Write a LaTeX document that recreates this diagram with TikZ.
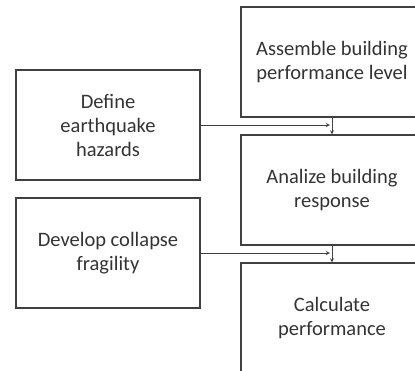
\documentclass[tikz,border=0pt]{standalone}
\usepackage{fontspec}
\setmainfont{Carlito}
\usetikzlibrary{arrows,positioning}
\tikzset{stepbox/.style={rectangle,draw=black!75,line width=1.1pt,align=center,
    text=black!80,font=\fontsize{20.5}{24}\selectfont,inner sep=0pt},
  rightbox/.style={stepbox,minimum width=182pt,minimum height=110pt},
  leftbox/.style={stepbox,minimum width=184pt,minimum height=110pt},
  link/.style={->,>=stealth,draw=black!75,line width=0.9pt}}

\begin{document}
\begin{tikzpicture}[x=1pt,y=-1pt]
\useasboundingbox (0,0) rectangle (415,370);
\clip (0,0) rectangle (415,370);
% \draw[help lines] (0,0) grid (415,370);
\node (assemble) [rightbox] at (332,62) {Assemble building\\performance level};
\node (analyze) [rightbox] at (332,190) {Analize building\\response};
\node (calculate) [rightbox] at (332,318) {Calculate\\performance};
\node (hazards) [leftbox] at (108,125) {Define\\earthquake\\hazards};
\node (fragility) [leftbox] at (108,253) {Develop collapse\\fragility};
%
\coordinate (j1) at (330,125);
\coordinate (j2) at (330,253);
\draw[link] (assemble) -- (analyze);
\draw[link] (analyze) -- (calculate);
\draw[link] (hazards.east) -- (j1);
\draw[link] (fragility.east) -- (j2);
\end{tikzpicture}
\end{document}
